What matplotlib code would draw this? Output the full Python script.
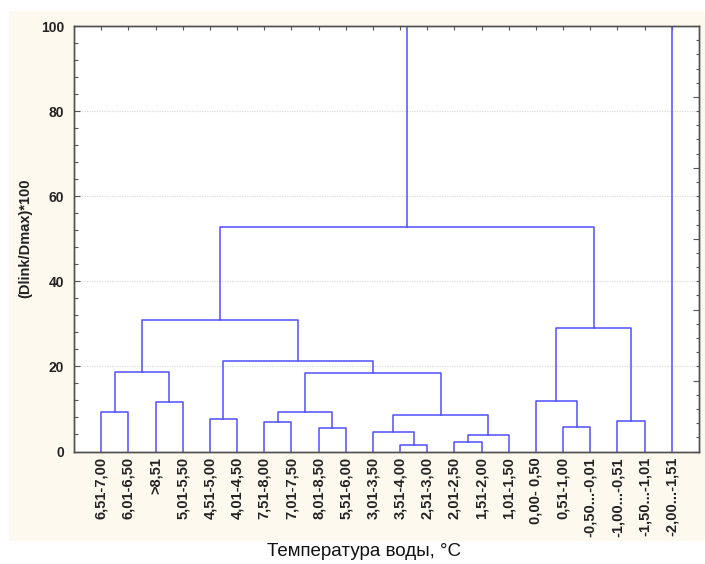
import matplotlib
matplotlib.use("Agg")
import matplotlib.pyplot as plt
from matplotlib.patches import Rectangle
from matplotlib.ticker import MultipleLocator, NullFormatter

plt.rcParams['font.family'] = ['Liberation Sans', 'DejaVu Sans']

# Листья дерева (интервалы температуры воды)
labels = ["6,51-7,00", "6,01-6,50", ">8,51", "5,01-5,50", "4,51-5,00",
          "4,01-4,50", "7,51-8,00", "7,01-7,50", "8,01-8,50", "5,51-6,00",
          "3,01-3,50", "3,51-4,00", "2,51-3,00", "2,01-2,50", "1,51-2,00",
          "1,01-1,50", "0,00- 0,50", "0,51-1,00", "-0,50...-0,01",
          "-1,00...-0,51", "-1,50...-1,01", "-2,00...-1,51"]

# Объединения: (узел A, узел B, расстояние); новые узлы нумеруются с 22
merge_a = [0, 2, 22, 4, 6, 8, 26, 11, 10, 13, 31, 30, 28, 25, 24, 17, 16, 19, 38, 36, 41]
merge_b = [1, 3, 23, 5, 7, 9, 27, 12, 29, 14, 15, 32, 33, 34, 35, 18, 37, 20, 39, 40, 21]
merge_h = [9.3, 11.6, 18.7, 7.6, 7.0, 5.6, 9.2, 1.45, 4.65, 2.2, 3.8, 8.65,
           18.4, 21.35, 30.9, 5.75, 11.95, 7.1, 28.95, 52.8, 100.0]

fig = plt.figure(figsize=(7.05, 5.64), dpi=100)
fig.patch.set_facecolor("white")
fig.patches.append(Rectangle((9 / 705, 1 - 541 / 564), 696 / 705, 530 / 564,
                             transform=fig.transFigure, facecolor="#fdf9ef",
                             edgecolor="none", zorder=-10))

ax = fig.add_axes([74 / 705, 1 - 451.5 / 564, 625 / 705, 425.5 / 564])
ax.set_facecolor("white")

n = len(labels)
pos_x = {i: float(i) for i in range(n)}
pos_y = {i: 0.0 for i in range(n)}
line_col = "#5050ff"
for k, (a, b, h) in enumerate(zip(merge_a, merge_b, merge_h)):
    xa, ya = pos_x[a], pos_y[a]
    xb, yb = pos_x[b], pos_y[b]
    ax.plot([xa, xa, xb, xb], [ya, h, h, yb], color=line_col, lw=1.1, zorder=2)
    node = n + k
    pos_x[node] = (xa + xb) / 2
    pos_y[node] = h

ax.set_xlim(-1, 22)
ax.set_ylim(0, 100)

for gy in [20, 40, 60, 80]:
    ax.axhline(gy, color="#dcdcdc", lw=0.9, ls=(0, (1, 1)), zorder=1)

ax.set_xticks(range(n))
ax.set_xticklabels(labels, rotation=90, fontsize=10.5, fontweight="bold",
                   va="top", color="#222222")
ax.tick_params(axis="x", which="both", bottom=False, top=True, direction="in",
               length=3, width=0.8, color="#555555", pad=4)
ax.set_yticks([0, 20, 40, 60, 80, 100])
ax.yaxis.set_minor_locator(MultipleLocator(4))
ax.tick_params(axis="y", which="major", direction="in", length=4, width=0.8,
               labelsize=10, pad=7, color="#555555")
ax.tick_params(axis="y", which="minor", direction="in", length=3, width=0.8,
               color="#555555")
for t in ax.get_yticklabels():
    t.set_fontweight("bold")
    t.set_color("#222222")

# Правая шкала без подписей
ax2 = ax.twinx()
ax2.set_ylim(0, 6)
ax2.yaxis.set_major_locator(MultipleLocator(1))
ax2.yaxis.set_minor_locator(MultipleLocator(0.2))
ax2.yaxis.set_major_formatter(NullFormatter())
ax2.tick_params(axis="y", which="major", direction="in", length=4, width=0.8,
                color="#555555")
ax2.tick_params(axis="y", which="minor", direction="in", length=2.5, width=0.8,
                color="#555555")

for s in list(ax.spines.values()) + list(ax2.spines.values()):
    s.set_color("#505050")
    s.set_linewidth(1.0)

ax.set_ylabel("(Dlink/Dmax)*100", fontsize=10.5, fontweight="bold",
              color="#222222", labelpad=6)
fig.text(364 / 705, 1 - 552 / 564, "Температура воды, °C", ha="center",
         va="center", fontsize=13.5, color="#111111")

fig.savefig("out.png", dpi=100)
